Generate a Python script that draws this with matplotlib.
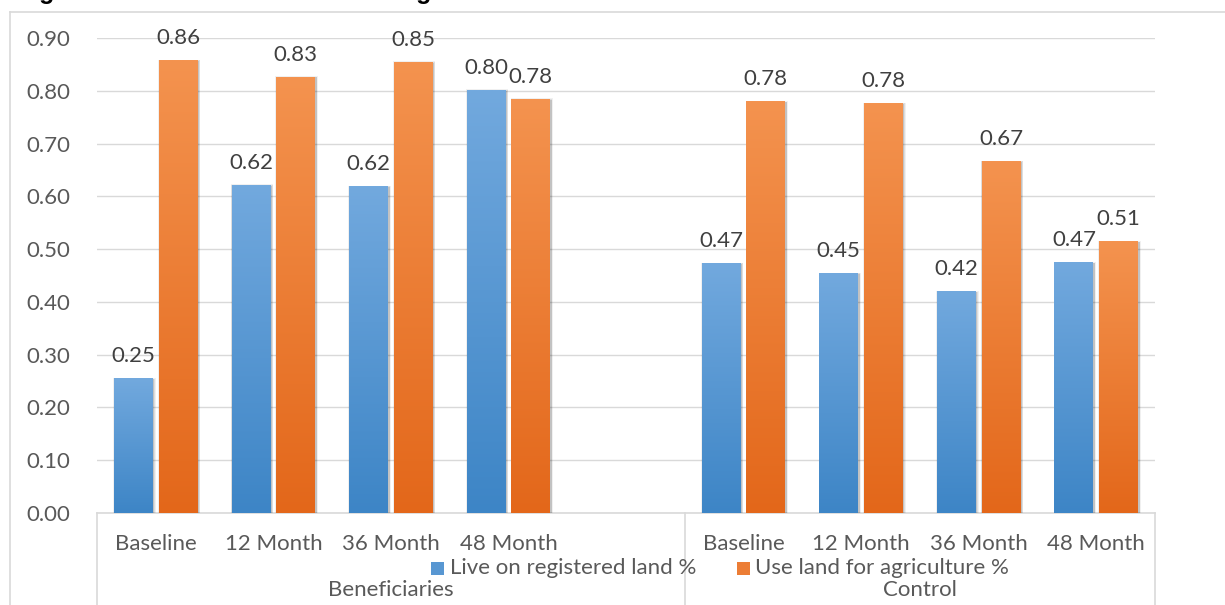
import matplotlib
matplotlib.use('Agg')
import matplotlib.pyplot as plt
import numpy as np
from matplotlib.patches import Rectangle
from matplotlib.lines import Line2D
from matplotlib.colors import LinearSegmentedColormap
import matplotlib.transforms as mtrans

# ---------------- data ----------------
groups = ['Beneficiaries', 'Control']
periods = ['Baseline', '12 Month', '36 Month', '48 Month']
live_benef = [0.254, 0.621, 0.619, 0.801]
agri_benef = [0.857, 0.826, 0.854, 0.784]
live_ctrl = [0.473, 0.454, 0.419, 0.474]
agri_ctrl = [0.779, 0.776, 0.666, 0.514]
series_names = ['Live on registered land %', 'Use land for agriculture %']
yticks = [0.0, 0.1, 0.2, 0.3, 0.4, 0.5, 0.6, 0.7, 0.8, 0.9]
title_text = 'Figure 9: Land Title and Use for Agriculture'

# ---------------- style ----------------
W, H = 1225, 605
FONT = 'Lato'
plt.rcParams['font.family'] = [FONT, 'DejaVu Sans']
TXT = '#595959'
GRID = '#D9D9D9'
blue_cmap = LinearSegmentedColormap.from_list('b', ['#3D85C6', '#72A9DE'])
orange_cmap = LinearSegmentedColormap.from_list('o', ['#E3671A', '#F4934F'])
FS = 16

fig = plt.figure(figsize=(W / 100, H / 100), dpi=100)
ax = fig.add_axes([97 / W, 1 - 513 / H, (1155 - 97) / W, (513 - 38) / H])

# slot positions: beneficiaries 0..3 (slot 4 empty), control 5..8
pos_benef = np.arange(4)
pos_ctrl = np.arange(4) + 5
n_slots = 9
bw = 0.33
off = [-0.19, 0.19]
px_x = 1.0 / 117.5          # data units per pixel along x
px_y = 0.1 / 52.8           # data units per pixel along y

grad = np.linspace(0, 1, 256).reshape(-1, 1)


def draw_bar(xc, h, cmap):
    x0 = xc - bw / 2
    # soft shadow
    for k, a in [(3, 0.06), (2, 0.08), (1, 0.12)]:
        ax.add_patch(Rectangle((x0 - k * px_x * 0.6 + px_x, 0), bw + 2 * k * px_x * 0.6, h + k * px_y * 0.6 - px_y,
                               facecolor='black', alpha=a, edgecolor='none', zorder=2))
    ax.imshow(grad, cmap=cmap, extent=[x0, x0 + bw, 0, h], aspect='auto',
              origin='lower', zorder=3, interpolation='bilinear')
    ax.annotate(f'{h:.2f}', xy=(xc, h), xytext=(0, 9), textcoords='offset points',
                ha='center', va='bottom', fontsize=FS, color='#404040', zorder=5)


for positions, live, agri in [(pos_benef, live_benef, agri_benef), (pos_ctrl, live_ctrl, agri_ctrl)]:
    for p, lv, ag in zip(positions, live, agri):
        draw_bar(p + off[0], lv, blue_cmap)
        draw_bar(p + off[1], ag, orange_cmap)

ax.set_xlim(-0.5, n_slots - 0.5)
ax.set_ylim(0, 0.9)
ax.set_yticks(yticks)
ax.set_yticklabels([f'{t:.2f}' for t in yticks])
ax.tick_params(axis='y', length=0, pad=19.5, labelsize=FS, labelcolor=TXT)
ax.set_xticks([])
for s in ax.spines.values():
    s.set_visible(False)
ax.grid(axis='y', color=GRID, linewidth=1.0, zorder=0)
ax.set_axisbelow(True)

# category axis box
trans = mtrans.blended_transform_factory(ax.transData, ax.transAxes)
ax.add_line(Line2D([-0.5, n_slots - 0.5], [0, 0], transform=trans, color=GRID, lw=1.2, clip_on=False, zorder=1))
for xs in [-0.5, 4.5, n_slots - 0.5]:
    ax.add_line(Line2D([xs, xs], [0, -0.25], transform=trans, color=GRID, lw=1.2, clip_on=False))

# period labels
for positions in [pos_benef, pos_ctrl]:
    for p, lab in zip(positions, periods):
        ax.annotate(lab, xy=(p, 0), xycoords=trans, xytext=(0, -31 * 0.72), textcoords='offset points',
                    ha='center', va='center', fontsize=FS, color=TXT)
# group labels
for xc, g in zip([(-0.5 + 4.5) / 2, (4.5 + n_slots - 0.5) / 2], groups):
    ax.annotate(g, xy=(xc, 0), xycoords=trans, xytext=(0, -77 * 0.72), textcoords='offset points',
                ha='center', va='center', fontsize=FS, color=TXT)

# legend (drawn manually in figure pixels)
leg_y = 568
for (sx, tx), name, cm in zip([(431, 450), (737, 755)], series_names, [blue_cmap, orange_cmap]):
    fig.patches.append(Rectangle((sx / W, 1 - (leg_y + 7) / H), 13 / W, 13 / H, transform=fig.transFigure,
                                 facecolor=cm(0.5), edgecolor='none'))
    fig.text(tx / W, 1 - leg_y / H, name, ha='left', va='center', fontsize=FS, color=TXT)

# chart-area border (partially visible)
fig.add_artist(Line2D([10 / W, 1], [1 - 12 / H, 1 - 12 / H], transform=fig.transFigure, color=GRID, lw=1.2))
fig.add_artist(Line2D([10 / W, 10 / W], [1 - 12 / H, 0], transform=fig.transFigure, color=GRID, lw=1.2))

# cropped title (only descenders visible)
fig.text(17 / W, 1 + 0.5 / H, title_text, ha='left', va='baseline', fontsize=18,
         fontweight='bold', family='Liberation Sans', color='black')

fig.savefig('out.png', dpi=100)
